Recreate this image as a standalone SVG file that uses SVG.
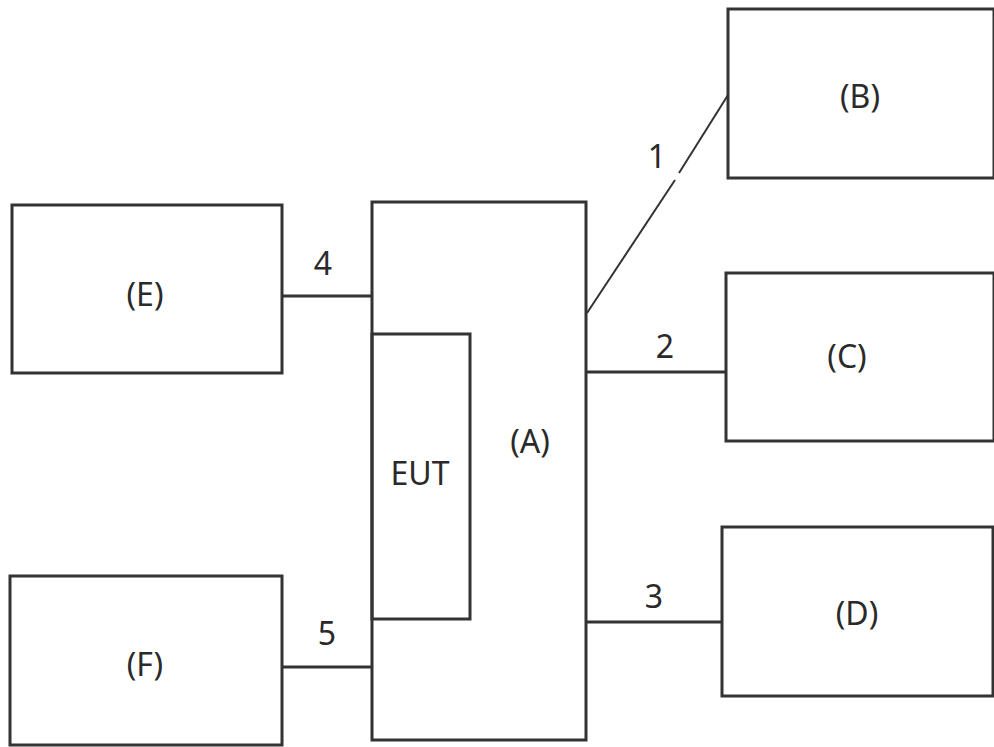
<svg xmlns="http://www.w3.org/2000/svg" width="994" height="747" viewBox="0 0 994 747">
<style>
.box{fill:none;stroke:#333;stroke-width:3}
.ln{stroke:#333;stroke-width:3;fill:none}
.ln1{stroke:#333;stroke-width:2;fill:none}
text{font-family:"Noto Sans","DejaVu Sans",sans-serif;font-size:32px;fill:#2a2a2a;text-anchor:middle;dominant-baseline:central}
</style>
<rect width="994" height="747" fill="#fff"/>
<g id="connectors">
<line class="ln1" x1="587" y1="313" x2="675" y2="180"/>
<line class="ln1" x1="679" y1="173" x2="728" y2="95"/>
<line class="ln" x1="586" y1="372" x2="726" y2="372"/>
<line class="ln" x1="586" y1="622" x2="722" y2="622"/>
<line class="ln" x1="282" y1="296" x2="372" y2="296"/>
<line class="ln" x1="282" y1="667" x2="372" y2="667"/>
<text x="657" y="155">1</text>
<text x="665" y="345">2</text>
<text x="654" y="595">3</text>
<text x="323" y="262">4</text>
<text x="327" y="632">5</text>
</g>
<g id="A"><rect class="box" x="372" y="202" width="214" height="538"/><text x="530" y="440">(A)</text></g>
<g id="EUT"><rect class="box" x="372" y="334" width="98" height="285"/><text x="420" y="472">EUT</text></g>
<g id="B"><rect class="box" x="728" y="9" width="266" height="169"/><text x="860" y="95">(B)</text></g>
<g id="C"><rect class="box" x="726" y="273" width="268" height="168"/><text x="847" y="355">(C)</text></g>
<g id="D"><rect class="box" x="722" y="527" width="271" height="169"/><text x="857" y="612">(D)</text></g>
<g id="E"><rect class="box" x="12" y="205" width="270" height="168"/><text x="145" y="293">(E)</text></g>
<g id="F"><rect class="box" x="10" y="576" width="272" height="169"/><text x="145" y="663">(F)</text></g>
</svg>
